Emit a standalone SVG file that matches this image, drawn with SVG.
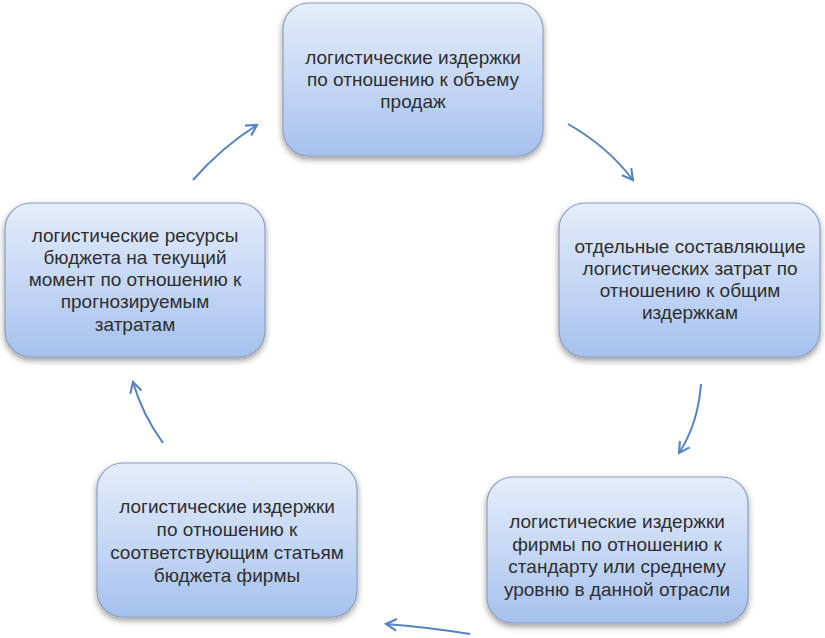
<svg xmlns="http://www.w3.org/2000/svg" width="825" height="638" viewBox="0 0 825 638">
<defs>
<linearGradient id="g" x1="0" y1="0" x2="0" y2="1">
<stop offset="0" stop-color="#e4edfa"/>
<stop offset="0.5" stop-color="#c6d8f5"/>
<stop offset="1" stop-color="#a6c1ee"/>
</linearGradient>
<filter id="sh" x="-10%" y="-10%" width="120%" height="130%">
<feDropShadow dx="0" dy="3" stdDeviation="3" flood-color="#000" flood-opacity="0.4"/>
</filter>
<marker id="ah" viewBox="0 0 12 12" refX="10" refY="6" markerWidth="14" markerHeight="14" markerUnits="userSpaceOnUse" orient="auto">
<path d="M1,1 L10,6 L1,11" fill="none" stroke="#5582c0" stroke-width="1.8" stroke-linejoin="miter"/>
</marker>
</defs>
<style>
.box{fill:url(#g);stroke:#8c9fbd;stroke-width:1.2;filter:url(#sh)}
.t{font-family:"Liberation Sans",Arial,sans-serif;font-size:19px;fill:#2f2f2f;text-anchor:middle}
.c{fill:none;stroke:#5582c0;stroke-width:2;marker-end:url(#ah)}
</style>
<rect width="825" height="638" fill="#fff"/>
<g id="connectors">
<path class="c" d="M193,180 Q222,147 257,125"/>
<path class="c" d="M568,124 Q607,146 633,180"/>
<path class="c" d="M701,384 Q698,424 679,453"/>
<path class="c" d="M470,634 Q426,627 386,624"/>
<path class="c" d="M163,443 Q142,414 133,382"/>
</g>
<g id="n1">
<rect class="box" x="283" y="3" width="260" height="153" rx="26"/>
<text class="t" x="413" y="64">логистические издержки</text>
<text class="t" x="413" y="86">по отношению к объему</text>
<text class="t" x="413" y="108">продаж</text>
</g>
<g id="n2">
<rect class="box" x="559" y="203" width="261" height="154" rx="26"/>
<text class="t" x="690" y="253">отдельные составляющие</text>
<text class="t" x="690" y="275">логистических затрат по</text>
<text class="t" x="690" y="297">отношению к общим</text>
<text class="t" x="690" y="319">издержкам</text>
</g>
<g id="n3">
<rect class="box" x="487" y="477" width="261" height="146" rx="26"/>
<text class="t" x="617" y="528">логистические издержки</text>
<text class="t" x="617" y="551">фирмы по отношению к</text>
<text class="t" x="617" y="573">стандарту или среднему</text>
<text class="t" x="617" y="596">уровню в данной отрасли</text>
</g>
<g id="n4">
<rect class="box" x="97" y="463" width="260" height="154" rx="26"/>
<text class="t" x="227" y="513">логистические издержки</text>
<text class="t" x="227" y="536">по отношению к</text>
<text class="t" x="227" y="559">соответствующим статьям</text>
<text class="t" x="227" y="582">бюджета фирмы</text>
</g>
<g id="n5">
<rect class="box" x="5" y="203" width="260" height="154" rx="26"/>
<text class="t" x="135" y="242">логистические ресурсы</text>
<text class="t" x="135" y="264">бюджета на текущий</text>
<text class="t" x="135" y="286">момент по отношению к</text>
<text class="t" x="135" y="308">прогнозируемым</text>
<text class="t" x="135" y="331">затратам</text>
</g>
</svg>
